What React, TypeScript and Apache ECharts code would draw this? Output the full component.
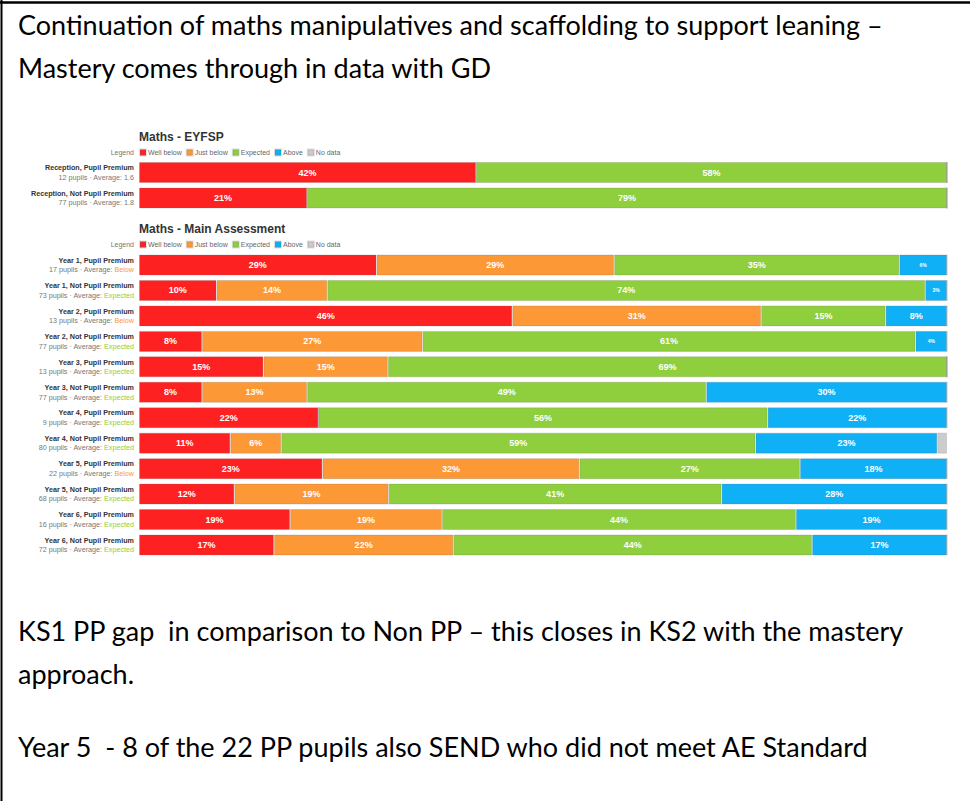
import React, { useEffect, useRef } from "react";
import * as echarts from "echarts";

// ---- Data ----
const legendNames = ["Well below", "Just below", "Expected", "Above", "No data"];
const legendColors = ["#fe2121", "#fd9836", "#8fce3d", "#0fb0f5", "#cccccc"];

const eyfsGroups = ["Reception, Pupil Premium", "Reception, Not Pupil Premium"];
const eyfsPupils = [12, 77];
const eyfsAverages = ["1.6", "1.8"];
const eyfsWellBelow = [41.7, 20.8];
const eyfsJustBelow = [0, 0];
const eyfsExpected = [58.3, 79.2];
const eyfsAbove = [0, 0];
const eyfsNoData = [0, 0];

const mainGroups = [
  "Year 1, Pupil Premium",
  "Year 1, Not Pupil Premium",
  "Year 2, Pupil Premium",
  "Year 2, Not Pupil Premium",
  "Year 3, Pupil Premium",
  "Year 3, Not Pupil Premium",
  "Year 4, Pupil Premium",
  "Year 4, Not Pupil Premium",
  "Year 5, Pupil Premium",
  "Year 5, Not Pupil Premium",
  "Year 6, Pupil Premium",
  "Year 6, Not Pupil Premium",
];
const mainPupils = [17, 73, 13, 77, 13, 77, 9, 80, 22, 68, 16, 72];
const mainAverages = [
  "Below", "Expected", "Below", "Expected", "Expected", "Expected",
  "Expected", "Expected", "Below", "Expected", "Expected", "Expected",
];
const mainWellBelow = [29.4, 9.6, 46.2, 7.8, 15.4, 7.8, 22.2, 11.3, 22.7, 11.8, 18.7, 16.7];
const mainJustBelow = [29.4, 13.7, 30.8, 27.3, 15.4, 13.0, 0, 6.3, 31.8, 19.1, 18.8, 22.2];
const mainExpected = [35.3, 74.0, 15.4, 61.0, 69.2, 49.4, 55.6, 58.7, 27.3, 41.2, 43.8, 44.4];
const mainAbove = [5.9, 2.7, 7.6, 3.9, 0, 29.8, 22.2, 22.5, 18.2, 27.9, 18.7, 16.7];
const mainNoData = [0, 0, 0, 0, 0, 0, 0, 1.2, 0, 0, 0, 0];

const docLines = [
  "Continuation of maths manipulatives and scaffolding to support leaning \u2013",
  "Mastery comes through in data with GD",
  "KS1 PP gap  in comparison to Non PP \u2013 this closes in KS2 with the mastery",
  "approach.",
  "Year 5  - 8 of the 22 PP pupils also SEND who did not meet AE Standard",
];
const docLineY = [24, 67, 630, 673, 746];

const titles = ["Maths - EYFSP", "Maths - Main Assessment"];

export default function App() {
  const ref = useRef<HTMLDivElement>(null);
  useEffect(() => {
    if (!ref.current) return;
    const chart = echarts.init(ref.current, null, { renderer: "svg" });
    const font = "Liberation Sans, Arial, sans-serif";

    const avgStyle = (a: string) => (a === "Below" ? "o" : a === "Expected" ? "e" : "p");
    const makeLabelFormatter = (groups: string[], pupils: number[], avgs: string[]) =>
      (_v: string, i: number) =>
        `{n|${groups[i]}}\n{p|${pupils[i]} pupils \u00b7 Average: }{${avgStyle(avgs[i])}|${avgs[i]}}`;

    const axisRich = {
      n: { fontSize: 7.2, fontWeight: "bold", color: "#333", fontFamily: font, lineHeight: 9.5 },
      p: { fontSize: 7.2, color: "#777", fontFamily: font, lineHeight: 9.5 },
      o: { fontSize: 7.2, color: "#fd9836", fontFamily: font, lineHeight: 9.5 },
      e: { fontSize: 7.2, color: "#8fce3d", fontFamily: font, lineHeight: 9.5 },
    };

    const eyfsSeries = [eyfsWellBelow, eyfsJustBelow, eyfsExpected, eyfsAbove, eyfsNoData];
    const mainSeries = [mainWellBelow, mainJustBelow, mainExpected, mainAbove, mainNoData];

    const barLabel = {
      show: true,
      position: "inside",
      formatter: (p: any) => {
        const v = p.value as number;
        if (v < 2) return "";
        const t = Math.round(v) + "%";
        return v < 6 ? `{s|${t}}` : `{l|${t}}`;
      },
      rich: {
        l: { fontSize: 9, fontWeight: "bold", color: "#fff", fontFamily: font },
        s: { fontSize: 5, fontWeight: "bold", color: "#fff", fontFamily: font },
      },
    };

    const mk = (arr: number[][], gi: number) =>
      arr.map((d, k) => ({
        name: legendNames[k],
        type: "bar",
        stack: "s" + gi,
        xAxisIndex: gi,
        yAxisIndex: gi,
        barWidth: 21,
        data: d,
        itemStyle: { color: legendColors[k], borderColor: "rgba(110,110,110,0.22)", borderWidth: 1 },
        label: barLabel,
        emphasis: { disabled: true },
      }));

    const legendCommon = {
      data: legendNames,
      left: 139,
      orient: "horizontal",
      icon: "rect",
      itemWidth: 6,
      itemHeight: 6,
      itemGap: 4,
      padding: 0,
      selectedMode: false,
      textStyle: { fontSize: 7, color: "#666", fontFamily: font, padding: [0, 0, 0, -3] },
    };

    const graphics: any[] = [
      { type: "line", shape: { x1: 1.5, y1: 0, x2: 1.5, y2: 801 }, style: { stroke: "#000", lineWidth: 2 } },
      { type: "line", shape: { x1: 0, y1: 2.5, x2: 970, y2: 2.5 }, style: { stroke: "#000", lineWidth: 2.5 } },
      ...docLines.map((t, i) => ({
        type: "text",
        x: 18,
        y: docLineY[i],
        style: {
          text: t,
          fontFamily: "Lato, Open Sans, sans-serif",
          fontSize: 27,
          fill: "#000",
          textVerticalAlign: "middle",
        },
      })),
      ...titles.map((t, i) => ({
        type: "text",
        x: 139,
        y: i === 0 ? 137 : 229,
        style: { text: t, fontFamily: font, fontSize: 12, fontWeight: "bold", fill: "#333", textVerticalAlign: "middle" },
      })),
      ...[152, 244].map((y) => ({
        type: "text",
        x: 134,
        y,
        style: { text: "Legend", fontFamily: font, fontSize: 7, fill: "#777", textAlign: "right", textVerticalAlign: "middle" },
      })),
    ];

    chart.setOption({
      animation: false,
      backgroundColor: "#fff",
      legend: [
        { ...legendCommon, top: 148.5 },
        { ...legendCommon, top: 240.5 },
      ],
      grid: [
        { left: 139, right: 23, top: 159.75, height: 51, containLabel: false },
        { left: 139, right: 23, top: 252.3, height: 305.4, containLabel: false },
      ],
      xAxis: [0, 1].map((g) => ({
        type: "value",
        gridIndex: g,
        min: 0,
        max: 100,
        show: false,
      })),
      yAxis: [
        {
          type: "category",
          gridIndex: 0,
          inverse: true,
          data: eyfsGroups,
          axisLine: { show: false },
          axisTick: { show: false },
          axisLabel: { margin: 5, formatter: makeLabelFormatter(eyfsGroups, eyfsPupils, eyfsAverages), rich: axisRich },
        },
        {
          type: "category",
          gridIndex: 1,
          inverse: true,
          data: mainGroups,
          axisLine: { show: false },
          axisTick: { show: false },
          axisLabel: { margin: 5, formatter: makeLabelFormatter(mainGroups, mainPupils, mainAverages), rich: axisRich },
        },
      ],
      series: [...mk(eyfsSeries, 0), ...mk(mainSeries, 1)],
      graphic: graphics,
    });
    return () => chart.dispose();
  }, []);
  return (
    <div
      ref={ref}
      style={{ position: "absolute", left: 0, top: 0, width: 970, height: 801 }}
    />
  );
}
